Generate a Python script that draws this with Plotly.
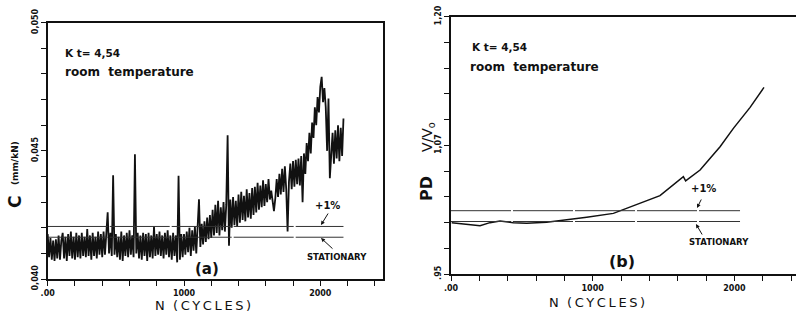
import plotly.graph_objects as go

# ---------------- data: panel (a) compliance C (mm/kN) vs N, sampled every 10 cycles
c_step = 10
c_values = [
    0.04175, 0.04085, 0.04160, 0.04075, 0.04150, 0.04070, 0.04155, 0.04080, 0.04170, 0.04075, 0.04150,
    0.04180, 0.04080, 0.04165, 0.04070, 0.04175, 0.04090, 0.04185, 0.04080, 0.04165, 0.04075,
    0.04180, 0.04085, 0.04170, 0.04080, 0.04180, 0.04090, 0.04165, 0.04085, 0.04195, 0.04090,
    0.04170, 0.04075, 0.04180, 0.04090, 0.04165, 0.04080, 0.04185, 0.04095, 0.04175, 0.04085,
    0.04185, 0.04095, 0.04170, 0.04260, 0.04100, 0.04180, 0.04090, 0.04405, 0.04095, 0.04175,
    0.04085, 0.04165, 0.04075, 0.04185, 0.04070, 0.04170, 0.04090, 0.04180, 0.04085, 0.04190,
    0.04095, 0.04170, 0.04085, 0.04487, 0.04100, 0.04180, 0.04080, 0.04170, 0.04075, 0.04180,
    0.04090, 0.04175, 0.04070, 0.04180, 0.04085, 0.04170, 0.04080, 0.04205, 0.04090, 0.04175,
    0.04095, 0.04185, 0.04090, 0.04170, 0.04080, 0.04180, 0.04095, 0.04190, 0.04085, 0.04170,
    0.04075, 0.04180, 0.04090, 0.04170, 0.04065, 0.04403, 0.04075, 0.04175, 0.04085, 0.04175,
    0.04095, 0.04185, 0.04105, 0.04200, 0.04090, 0.04190, 0.04110, 0.04205, 0.04100, 0.04195,
    0.04311, 0.04125, 0.04215, 0.04135, 0.04225, 0.04145, 0.04240, 0.04155, 0.04250, 0.04160,
    0.04270, 0.04170, 0.04290, 0.04180, 0.04305, 0.04170, 0.04280, 0.04190, 0.04300, 0.04185,
    0.04290, 0.04561, 0.04130, 0.04310, 0.04200, 0.04320, 0.04210, 0.04305, 0.04205, 0.04330,
    0.04220, 0.04340, 0.04230, 0.04325, 0.04225, 0.04350, 0.04240, 0.04335, 0.04235, 0.04355,
    0.04250, 0.04360, 0.04260, 0.04375, 0.04270, 0.04365, 0.04280, 0.04385, 0.04285, 0.04370,
    0.04300, 0.04390, 0.04310, 0.04345, 0.04290, 0.04265, 0.04315, 0.04390, 0.04320, 0.04410,
    0.04330, 0.04430, 0.04340, 0.04440, 0.04350, 0.04185, 0.04380, 0.04450, 0.04350, 0.04460,
    0.04360, 0.04465, 0.04370, 0.04470, 0.04365, 0.04480, 0.04300, 0.04490, 0.04410, 0.04530,
    0.04460, 0.04570, 0.04490, 0.04610, 0.04550, 0.04670, 0.04600, 0.04710, 0.04650, 0.04750,
    0.04789, 0.04690, 0.04745, 0.04670, 0.04500, 0.04704, 0.04393, 0.04470, 0.04570, 0.04450,
    0.04580, 0.04470, 0.04600, 0.04460, 0.04590, 0.04480, 0.04626,
]
c_cycles = [i * c_step for i in range(len(c_values))]

c_stationary = 0.04163
c_plus1 = 0.04205
c_ref_span = [0, 2170]

# ---------------- data: panel (b) potential drop V/Vo vs N
pd_cycles = [5, 110, 205, 275, 346, 440, 534, 675, 816, 958, 1146, 1287, 1475, 1640, 1656, 1758, 1899, 1993, 2111, 2209]
pd_values = [0.9999, 0.9986, 0.9970, 0.9999, 1.0015, 0.9999, 0.9992, 1.0002, 1.0025, 1.0051,
             1.0089, 1.0161, 1.0261, 1.0446, 1.0404, 1.0510, 1.0737, 1.0915, 1.1119, 1.1313]
pd_stationary = 1.0010
pd_plus1 = 1.0115
pd_ref_span = [0, 2040]

# ---------------- ticks
x_tickvals = list(range(0, 2600, 200))
x_ticktext = [".00", "", "", "", "", "1000", "", "", "", "", "2000", "", ""]
ya_tickvals = [0.040 + 0.001 * i for i in range(11)]
ya_ticktext = ["0,040", "", "", "", "", "0,045", "", "", "", "", "0,050"]
yb_tickvals = [0.95 + 0.025 * i for i in range(11)]
yb_ticktext = [".95", "", "", "", "", "1,07", "", "", "", "", "1,20"]

W, H = 796, 321
FONT = "DejaVu Sans"
XTITLE = "N  (\u2009C\u2009Y\u2009C\u2009L\u2009E\u2009S\u2009)"

fig = go.Figure()
fig.add_trace(go.Scatter(x=c_cycles, y=c_values, mode="lines",
                         line=dict(color="#111", width=1.8), xaxis="x", yaxis="y"))
for v in (c_stationary, c_plus1):
    fig.add_trace(go.Scatter(x=c_ref_span, y=[v, v], mode="lines",
                             line=dict(color="#333", width=1, dash="60px,2px"), xaxis="x", yaxis="y"))
fig.add_trace(go.Scatter(x=pd_cycles, y=pd_values, mode="lines",
                         line=dict(color="#111", width=1.5), xaxis="x2", yaxis="y2"))
for v in (pd_stationary, pd_plus1):
    fig.add_trace(go.Scatter(x=pd_ref_span, y=[v, v], mode="lines",
                             line=dict(color="#333", width=1, dash="60px,2px"), xaxis="x2", yaxis="y2"))

axis_common = dict(showgrid=False, zeroline=False, showline=True, linecolor="#111",
                   linewidth=1.8, ticks="outside", ticklen=5, tickwidth=1.3, tickcolor="#111",
                   automargin=False,
                   tickfont=dict(family=FONT, size=8, color="#111", weight="bold"))

fig.update_layout(
    width=W, height=H, margin=dict(l=0, r=0, t=0, b=0, autoexpand=False),
    paper_bgcolor="white", plot_bgcolor="white", showlegend=False,
    xaxis=dict(domain=[47.7 / W, 383 / W], range=[0, 2460], anchor="y", mirror=True,
               tickvals=x_tickvals, ticktext=x_ticktext, **axis_common),
    yaxis=dict(domain=[42 / H, 298.3 / H], range=[0.040, 0.050], anchor="x", mirror=True,
               tickvals=ya_tickvals, ticktext=ya_ticktext, tickangle=-90, **axis_common),
    xaxis2=dict(domain=[451 / W, 1.0], range=[0, 2435], anchor="y2", mirror=True,
                tickvals=x_tickvals, ticktext=x_ticktext, **axis_common),
    yaxis2=dict(domain=[47 / H, 304.3 / H], range=[0.95, 1.20], anchor="x2",
                tickvals=yb_tickvals, ticktext=yb_ticktext, tickangle=-90, **axis_common),
)

def ann(x, y, text, size, bold=False, angle=0, xanchor="center", family=FONT):
    fig.add_annotation(x=x / W, y=1 - y / H, xref="paper", yref="paper", text=text,
                       showarrow=False, textangle=angle, xanchor=xanchor, yanchor="middle",
                       font=dict(family=family, size=size, color="#111",
                                 weight="bold" if bold else "normal"))

def arrow(x0, y0, x1, y1):
    fig.add_annotation(x=x1 / W, y=1 - y1 / H, ax=x0 - x1, ay=y0 - y1,
                       xref="paper", yref="paper", axref="pixel", ayref="pixel",
                       text="", showarrow=True, arrowhead=2, arrowsize=0.8,
                       arrowwidth=1, arrowcolor="#111")

# panel (a) texts
ann(63, 53, "K t= 4,54", 10.5, bold=True, xanchor="left")
ann(63, 72, "room  temperature", 12, bold=True, xanchor="left")
ann(207, 269, "(a)", 15, bold=True)
ann(327, 205, "+1%", 10, bold=True)
ann(337, 257, "STATIONARY", 8.5, bold=True)
arrow(329, 212, 321, 225)
arrow(334, 250, 321, 238)
ann(203, 305, XTITLE, 13)
ann(15, 202, "C", 17, bold=True, angle=-90)
ann(15, 163, "(mm/kN)", 9, bold=True, angle=-90)

# panel (b) texts
ann(470, 47, "K t= 4,54", 10.5, bold=True, xanchor="left")
ann(468, 67, "room  temperature", 12, bold=True, xanchor="left")
ann(622, 261, "(b)", 16, bold=True)
ann(703, 189, "+1%", 10, bold=True)
ann(719, 242, "STATIONARY", 8.5, bold=True)
arrow(702, 198, 697, 208)
arrow(703, 236, 696, 224)
ann(597, 302, XTITLE, 13)
ann(427, 189, "PD", 16, bold=True, angle=-90)
ann(428, 137, "V/V<sub>o</sub>", 14, angle=-90)

fig.write_html("out.html", config={"displayModeBar": False},
               post_script="document.body.style.margin='0';document.body.style.overflow='hidden';")
